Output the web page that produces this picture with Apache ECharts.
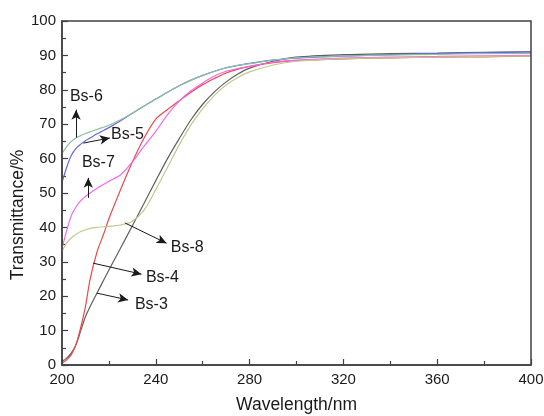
<!DOCTYPE html>
<html>
<head>
<meta charset="utf-8">
<script src="https://cdn.jsdelivr.net/npm/echarts@6/dist/echarts.min.js"></script>
<style>
html,body{margin:0;padding:0;background:#fff;}
#chart{width:544px;height:416px;}
</style>
</head>
<body>
<div id="chart"></div>
<script>
// Wavelength samples (nm) shared by all spectra
const wavelengths = [200, 202, 204, 206, 208, 210, 212, 215, 218, 220, 225, 230, 235, 240, 245, 250, 255, 260, 265, 270, 275, 280, 290, 300, 320, 340, 360, 380, 400];

// Transmittance (%) for each sample
const bs3 = [1, 2, 3.5, 6, 10, 14, 17, 21, 25, 27.6, 34, 40.5, 47, 53.6, 60, 65.8, 71.3, 75.8, 79.4, 82.3, 84.6, 86.3, 88.3, 89.5, 90.2, 90.5, 90.7, 90.9, 91];
const bs4 = [0.5, 1.5, 3, 6, 11, 17, 25, 33, 38.5, 42.5, 51, 59, 66, 71.5, 74.3, 76.8, 79.3, 81.5, 83.3, 84.9, 86, 86.8, 87.9, 88.5, 89, 89.3, 89.5, 89.6, 89.8];
const bs5 = [53, 57.5, 61, 63, 64.2, 65.2, 66, 67.2, 68.3, 69, 71, 73.2, 75.3, 77.3, 79.3, 81.2, 82.8, 84.2, 85.4, 86.4, 87.1, 87.7, 88.6, 89.2, 89.8, 90.2, 90.5, 90.8, 91];
const bs6 = [61.5, 63.5, 65, 66, 66.7, 67.3, 67.8, 68.5, 69.2, 69.7, 71.3, 73.2, 75.3, 77.3, 79.3, 81.2, 82.8, 84.2, 85.4, 86.4, 87.1, 87.6, 88.6, 89.3, 89.8, 90.1, 90.3, 90.5, 90.6];
const bs7 = [34, 39, 43.5, 46, 47.8, 49, 50, 51.4, 52.6, 53.4, 55.3, 59, 63.6, 67.9, 72.8, 76.7, 79.7, 82, 84, 85.4, 86.2, 86.8, 88, 88.6, 89.2, 89.5, 89.7, 89.9, 90];
const bs8 = [33, 35.5, 37, 38, 38.8, 39.3, 39.7, 40, 40.2, 40.3, 40.7, 41.8, 45, 51, 57.5, 64, 69.8, 74.5, 78.4, 81.4, 83.6, 85.2, 87.2, 88.3, 89, 89.3, 89.5, 89.7, 89.8];

// Axis tick labels
const xTicks = [200, 240, 280, 320, 360, 400];
const yTicks = [0, 10, 20, 30, 40, 50, 60, 70, 80, 90, 100];

// Callout: label text, label centre, arrow tail and arrow head (data units)
const callouts = {
  'Bs-3': { text: [238.1, 17.5], from: [214.8, 20.9], to: [228.2, 18.9] },
  'Bs-4': { text: [242.8, 25.3], from: [213.3, 29.6], to: [233.9, 26.4] },
  'Bs-5': { text: [227.9, 67.0], from: [209.1, 64.5], to: [220.4, 66.0] },
  'Bs-6': { text: [210.4, 78.0], from: [206.0, 66.1], to: [206.0, 74.2] },
  'Bs-7': { text: [215.5, 58.8], from: [211.2, 48.6], to: [211.2, 54.4] },
  'Bs-8': { text: [253.4, 34.1], from: [226.8, 41.3], to: [244.6, 35.4] }
};

const seriesDefs = [
  { name: 'Bs-3', values: bs3, color: '#606060' },
  { name: 'Bs-4', values: bs4, color: '#f04848' },
  { name: 'Bs-5', values: bs5, color: '#6468dc' },
  { name: 'Bs-6', values: bs6, color: '#8cc0a0' },
  { name: 'Bs-7', values: bs7, color: '#f068ec' },
  { name: 'Bs-8', values: bs8, color: '#c2c88e' }
];

const font = 'Liberation Sans, Arial, sans-serif';

const series = seriesDefs.map(d => {
  const c = callouts[d.name];
  return {
    name: d.name,
    type: 'line',
    data: wavelengths.map((w, i) => [w, d.values[i]]),
    showSymbol: false,
    smooth: 0.3,
    lineStyle: { color: d.color, width: 1.2 },
    itemStyle: { color: d.color },
    z: 2,
    markLine: {
      silent: true,
      symbol: ['none', 'arrow'],
      symbolSize: [7, 10],
      lineStyle: { color: '#1a1a1a', width: 1, type: 'solid' },
      label: { show: false },
      data: [[{ coord: c.from }, { coord: c.to }]],
      animation: false
    },
    markPoint: {
      silent: true,
      symbol: 'circle',
      symbolSize: 0,
      itemStyle: { color: 'transparent' },
      label: {
        show: true,
        position: 'inside',
        formatter: d.name,
        color: '#1a1a1a',
        fontSize: 16,
        fontFamily: font
      },
      data: [{ coord: c.text }],
      animation: false
    }
  };
});

const chart = echarts.init(document.getElementById('chart'), null, { renderer: 'canvas' });
chart.setOption({
  animation: false,
  backgroundColor: '#ffffff',
  grid: { left: 62, right: 13, top: 21, bottom: 51, containLabel: false, outerBoundsMode: 'none' },
  xAxis: {
    type: 'value',
    min: 200,
    max: 400,
    interval: 40,
    name: 'Wavelength/nm',
    nameLocation: 'middle',
    nameGap: 31,
    nameMoveOverlap: false,
    nameTextStyle: { fontSize: 17.5, fontFamily: font, color: '#1a1a1a' },
    axisLine: { show: true, lineStyle: { color: '#404040', width: 1.5 } },
    axisTick: { show: true, inside: true, length: 6, lineStyle: { color: '#404040', width: 1.2 } },
    minorTick: { show: true, splitNumber: 2, length: 4, lineStyle: { color: '#404040', width: 1.2 } },
    axisLabel: {
      fontSize: 15, fontFamily: font, color: '#1a1a1a', margin: 7,
      formatter: v => xTicks.includes(v) ? String(v) : ''
    },
    splitLine: { show: false }
  },
  yAxis: {
    type: 'value',
    min: 0,
    max: 100,
    interval: 10,
    name: 'Transmittance/%',
    nameLocation: 'middle',
    nameGap: 35,
    nameMoveOverlap: false,
    nameTextStyle: { fontSize: 17.5, fontFamily: font, color: '#1a1a1a', padding: [0, 44, 0, 0] },
    axisLine: { show: true, lineStyle: { color: '#404040', width: 1.5 } },
    axisTick: { show: true, inside: true, length: 6, lineStyle: { color: '#404040', width: 1.2 } },
    minorTick: { show: true, splitNumber: 2, length: 4, lineStyle: { color: '#404040', width: 1.2 } },
    axisLabel: {
      fontSize: 15, fontFamily: font, color: '#1a1a1a', margin: 6,
      formatter: v => yTicks.includes(v) ? String(v) : ''
    },
    splitLine: { show: false }
  },
  series: series
});

// Frame the plot area on the top and right sides
const gridRect = chart.getModel().getComponent('grid').coordinateSystem.getRect();
chart.setOption({
  graphic: [{
    type: 'rect',
    silent: true,
    shape: { x: gridRect.x, y: gridRect.y, width: gridRect.width, height: gridRect.height },
    style: { fill: 'none', stroke: '#404040', lineWidth: 1.5 },
    z: 10
  }]
});
</script>
</body>
</html>
